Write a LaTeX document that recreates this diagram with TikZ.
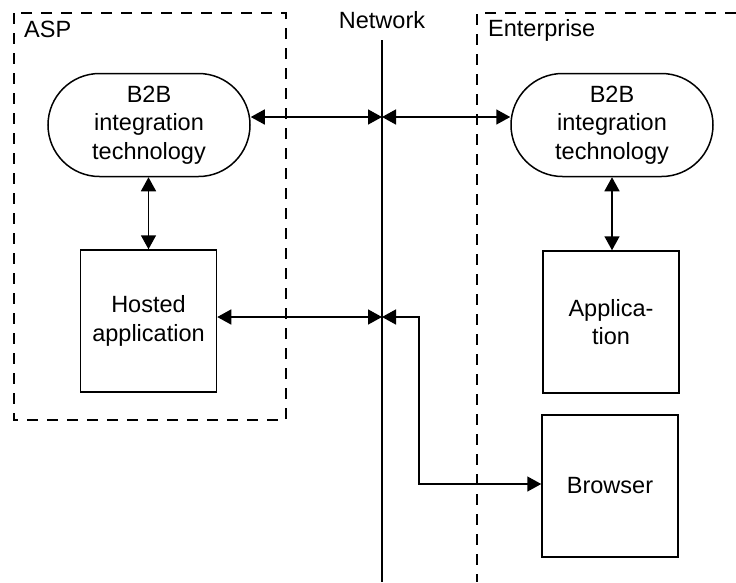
\documentclass[tikz,border=0pt]{standalone}
\usepackage{fontspec}
\setmainfont{Liberation Sans}
\usetikzlibrary{arrows.meta,shapes.misc}
\begin{document}
\begin{tikzpicture}[x=1pt,y=-1pt,
  every node/.style={font=\fontsize{23.5}{28.5}\selectfont, inner sep=0pt},
  region/.style={line width=1.5pt, dash pattern=on 11pt off 9pt},
  stadium/.style={draw, line width=1.5pt, rounded rectangle, minimum width=202pt, minimum height=103pt, align=center},
  boxnode/.style={draw, line width=1.5pt, minimum width=136pt, minimum height=142pt, align=center},
  conn/.style={line width=1.5pt, {Triangle[length=14pt,width=15pt]}-{Triangle[length=14pt,width=15pt]}},
  netline/.style={line width=1.5pt}]
\useasboundingbox (0,0) rectangle (736,582);
% regions
\draw[region] (14,13) rectangle (286,420);
\draw[region] (736,13) -- (477,13) -- (477,582);
\node[anchor=west] (asp) at (24,29) {ASP};
\node[anchor=west] (ent) at (488,30) {Enterprise};
\node (net) at (382,20) {Network};
% network line
\coordinate (ntop) at (382,40);
\coordinate (nbot) at (382,582);
\draw[netline] (ntop) -- (nbot);
\coordinate (n1) at (382,117);
\coordinate (n2) at (382,317);
\coordinate (bend) at (419,400);
% nodes
\node[stadium] (b2bL) at (149,125) {B2B\\integration\\technology};
\node[stadium] (b2bR) at (612,125) {B2B\\integration\\technology};
\node[boxnode] (hosted) at (148.5,321) {Hosted\\application};
\node[boxnode] (app) at (611,322) {Applica-\\tion};
\node[boxnode] (browser) at (610,486) {Browser};
% connectors
\draw[conn] (b2bL.east |- n1) -- (n1);
\draw[conn] (n1) -- (b2bR.west |- n1);
\draw[conn] (b2bL.south -| hosted.north) -- (hosted.north);
\draw[conn] (b2bR.south) -- (b2bR.south |- app.north);
\draw[conn] (hosted.east |- n2) -- (n2);
\draw[conn] (n2) -| (bend) |- ([yshift=2pt]browser.west);
\end{tikzpicture}
\end{document}
